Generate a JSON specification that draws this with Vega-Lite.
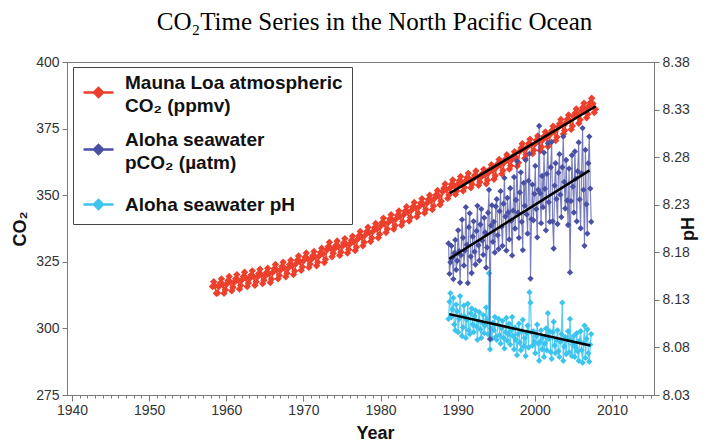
{
  "$schema": "https://vega.github.io/schema/vega-lite/v6.json",
  "width": 587,
  "height": 333,
  "autosize": {"type": "none"},
  "padding": {"left": 67, "top": 62, "right": 59, "bottom": 46},
  "background": "white",
  "title": {
    "text": "CO₂Time Series in the North Pacific Ocean",
    "font": "Liberation Serif",
    "fontSize": 25,
    "fontWeight": "normal",
    "color": "#000000",
    "anchor": "middle",
    "frame": "group",
    "baseline": "alphabetic",
    "dx": 14,
    "offset": 0
  },
  "datasets": {
    "maunaloa": [
      {"t":1958.21,"v":315.7},{"t":1958.37,"v":317.5},{"t":1958.54,"v":315.9},{"t":1958.71,"v":313.2},{"t":1958.87,"v":313.3},
      {"t":1959.04,"v":315.7},{"t":1959.21,"v":317.0},{"t":1959.37,"v":318.6},{"t":1959.54,"v":316.5},{"t":1959.71,"v":313.2},{"t":1959.87,"v":314.5},
      {"t":1960.04,"v":316.6},{"t":1960.21,"v":317.9},{"t":1960.37,"v":319.5},{"t":1960.54,"v":317.4},{"t":1960.71,"v":314.1},{"t":1960.87,"v":315.4},
      {"t":1961.04,"v":317.3},{"t":1961.21,"v":318.6},{"t":1961.37,"v":320.2},{"t":1961.54,"v":318.1},{"t":1961.71,"v":314.8},{"t":1961.87,"v":316.1},
      {"t":1962.04,"v":318.2},{"t":1962.21,"v":319.5},{"t":1962.37,"v":321.1},{"t":1962.54,"v":319.0},{"t":1962.71,"v":315.7},{"t":1962.87,"v":317.0},
      {"t":1963.04,"v":318.7},{"t":1963.21,"v":320.0},{"t":1963.37,"v":321.6},{"t":1963.54,"v":319.5},{"t":1963.71,"v":316.2},{"t":1963.87,"v":317.5},
      {"t":1964.04,"v":319.3},{"t":1964.21,"v":320.6},{"t":1964.37,"v":322.2},{"t":1964.54,"v":320.1},{"t":1964.71,"v":316.8},{"t":1964.87,"v":318.1},
      {"t":1965.04,"v":319.7},{"t":1965.21,"v":321.0},{"t":1965.37,"v":322.6},{"t":1965.54,"v":320.5},{"t":1965.71,"v":317.2},{"t":1965.87,"v":318.5},
      {"t":1966.04,"v":321.1},{"t":1966.21,"v":322.4},{"t":1966.37,"v":324.0},{"t":1966.54,"v":321.9},{"t":1966.71,"v":318.6},{"t":1966.87,"v":319.9},
      {"t":1967.04,"v":321.9},{"t":1967.21,"v":323.2},{"t":1967.37,"v":324.8},{"t":1967.54,"v":322.7},{"t":1967.71,"v":319.4},{"t":1967.87,"v":320.7},
      {"t":1968.04,"v":322.7},{"t":1968.21,"v":324.0},{"t":1968.37,"v":325.6},{"t":1968.54,"v":323.5},{"t":1968.71,"v":320.2},{"t":1968.87,"v":321.5},
      {"t":1969.04,"v":324.3},{"t":1969.21,"v":325.6},{"t":1969.37,"v":327.2},{"t":1969.54,"v":325.1},{"t":1969.71,"v":321.8},{"t":1969.87,"v":323.1},
      {"t":1970.04,"v":325.4},{"t":1970.21,"v":326.7},{"t":1970.37,"v":328.3},{"t":1970.54,"v":326.2},{"t":1970.71,"v":322.9},{"t":1970.87,"v":324.2},
      {"t":1971.04,"v":326.0},{"t":1971.21,"v":327.3},{"t":1971.37,"v":328.9},{"t":1971.54,"v":326.8},{"t":1971.71,"v":323.5},{"t":1971.87,"v":324.8},
      {"t":1972.04,"v":327.2},{"t":1972.21,"v":328.5},{"t":1972.37,"v":330.1},{"t":1972.54,"v":328.0},{"t":1972.71,"v":324.7},{"t":1972.87,"v":326.0},
      {"t":1973.04,"v":329.4},{"t":1973.21,"v":330.7},{"t":1973.37,"v":332.3},{"t":1973.54,"v":330.2},{"t":1973.71,"v":326.9},{"t":1973.87,"v":328.2},
      {"t":1974.04,"v":329.9},{"t":1974.21,"v":331.2},{"t":1974.37,"v":332.8},{"t":1974.54,"v":330.7},{"t":1974.71,"v":327.4},{"t":1974.87,"v":328.7},
      {"t":1975.04,"v":330.8},{"t":1975.21,"v":332.1},{"t":1975.37,"v":333.7},{"t":1975.54,"v":331.6},{"t":1975.71,"v":328.3},{"t":1975.87,"v":329.6},
      {"t":1976.04,"v":331.7},{"t":1976.21,"v":333.0},{"t":1976.37,"v":334.6},{"t":1976.54,"v":332.5},{"t":1976.71,"v":329.2},{"t":1976.87,"v":330.5},
      {"t":1977.04,"v":333.5},{"t":1977.21,"v":334.8},{"t":1977.37,"v":336.4},{"t":1977.54,"v":334.3},{"t":1977.71,"v":331.0},{"t":1977.87,"v":332.3},
      {"t":1978.04,"v":335.1},{"t":1978.21,"v":336.4},{"t":1978.37,"v":338.0},{"t":1978.54,"v":335.9},{"t":1978.71,"v":332.6},{"t":1978.87,"v":333.9},
      {"t":1979.04,"v":336.5},{"t":1979.21,"v":337.8},{"t":1979.37,"v":339.4},{"t":1979.54,"v":337.3},{"t":1979.71,"v":334.0},{"t":1979.87,"v":335.3},
      {"t":1980.04,"v":338.5},{"t":1980.21,"v":339.8},{"t":1980.37,"v":341.4},{"t":1980.54,"v":339.3},{"t":1980.71,"v":336.0},{"t":1980.87,"v":337.3},
      {"t":1981.04,"v":339.8},{"t":1981.21,"v":341.1},{"t":1981.37,"v":342.7},{"t":1981.54,"v":340.6},{"t":1981.71,"v":337.3},{"t":1981.87,"v":338.6},
      {"t":1982.04,"v":341.2},{"t":1982.21,"v":342.5},{"t":1982.37,"v":344.1},{"t":1982.54,"v":342.0},{"t":1982.71,"v":338.7},{"t":1982.87,"v":340.0},
      {"t":1983.04,"v":342.8},{"t":1983.21,"v":344.1},{"t":1983.37,"v":345.7},{"t":1983.54,"v":343.6},{"t":1983.71,"v":340.3},{"t":1983.87,"v":341.6},
      {"t":1984.04,"v":344.4},{"t":1984.21,"v":345.7},{"t":1984.37,"v":347.3},{"t":1984.54,"v":345.2},{"t":1984.71,"v":341.9},{"t":1984.87,"v":343.2},
      {"t":1985.04,"v":345.8},{"t":1985.21,"v":347.1},{"t":1985.37,"v":348.7},{"t":1985.54,"v":346.6},{"t":1985.71,"v":343.3},{"t":1985.87,"v":344.6},
      {"t":1986.04,"v":347.1},{"t":1986.21,"v":348.4},{"t":1986.37,"v":350.0},{"t":1986.54,"v":347.9},{"t":1986.71,"v":344.6},{"t":1986.87,"v":345.9},
      {"t":1987.04,"v":348.9},{"t":1987.21,"v":350.2},{"t":1987.37,"v":351.8},{"t":1987.54,"v":349.7},{"t":1987.71,"v":346.4},{"t":1987.87,"v":347.7},
      {"t":1988.04,"v":351.3},{"t":1988.21,"v":352.6},{"t":1988.37,"v":354.2},{"t":1988.54,"v":352.1},{"t":1988.71,"v":348.8},{"t":1988.87,"v":350.1},
      {"t":1989.04,"v":352.8},{"t":1989.21,"v":354.1},{"t":1989.37,"v":355.7},{"t":1989.54,"v":353.6},{"t":1989.71,"v":350.3},{"t":1989.87,"v":351.6},
      {"t":1990.04,"v":354.1},{"t":1990.21,"v":355.4},{"t":1990.37,"v":357.0},{"t":1990.54,"v":354.9},{"t":1990.71,"v":351.6},{"t":1990.87,"v":352.9},
      {"t":1991.04,"v":355.3},{"t":1991.21,"v":356.6},{"t":1991.37,"v":358.2},{"t":1991.54,"v":356.1},{"t":1991.71,"v":352.8},{"t":1991.87,"v":354.1},
      {"t":1992.04,"v":356.2},{"t":1992.21,"v":357.5},{"t":1992.37,"v":359.1},{"t":1992.54,"v":357.0},{"t":1992.71,"v":353.7},{"t":1992.87,"v":355.0},
      {"t":1993.04,"v":356.8},{"t":1993.21,"v":358.1},{"t":1993.37,"v":359.7},{"t":1993.54,"v":357.6},{"t":1993.71,"v":354.3},{"t":1993.87,"v":355.6},
      {"t":1994.04,"v":358.5},{"t":1994.21,"v":359.8},{"t":1994.37,"v":361.4},{"t":1994.54,"v":359.3},{"t":1994.71,"v":356.0},{"t":1994.87,"v":357.3},
      {"t":1995.04,"v":360.5},{"t":1995.21,"v":361.8},{"t":1995.37,"v":363.4},{"t":1995.54,"v":361.3},{"t":1995.71,"v":358.0},{"t":1995.87,"v":359.3},
      {"t":1996.04,"v":362.3},{"t":1996.21,"v":363.6},{"t":1996.37,"v":365.2},{"t":1996.54,"v":363.1},{"t":1996.71,"v":359.8},{"t":1996.87,"v":361.1},
      {"t":1997.04,"v":363.4},{"t":1997.21,"v":364.7},{"t":1997.37,"v":366.3},{"t":1997.54,"v":364.2},{"t":1997.71,"v":360.9},{"t":1997.87,"v":362.2},
      {"t":1998.04,"v":366.4},{"t":1998.21,"v":367.7},{"t":1998.37,"v":369.3},{"t":1998.54,"v":367.2},{"t":1998.71,"v":363.9},{"t":1998.87,"v":365.2},
      {"t":1999.04,"v":368.1},{"t":1999.21,"v":369.4},{"t":1999.37,"v":371.0},{"t":1999.54,"v":368.9},{"t":1999.71,"v":365.6},{"t":1999.87,"v":366.9},
      {"t":2000.04,"v":369.3},{"t":2000.21,"v":370.6},{"t":2000.37,"v":372.2},{"t":2000.54,"v":370.1},{"t":2000.71,"v":366.8},{"t":2000.87,"v":368.1},
      {"t":2001.04,"v":370.8},{"t":2001.21,"v":372.1},{"t":2001.37,"v":373.7},{"t":2001.54,"v":371.6},{"t":2001.71,"v":368.3},{"t":2001.87,"v":369.6},
      {"t":2002.04,"v":373.0},{"t":2002.21,"v":374.3},{"t":2002.37,"v":375.9},{"t":2002.54,"v":373.8},{"t":2002.71,"v":370.5},{"t":2002.87,"v":371.8},
      {"t":2003.04,"v":375.5},{"t":2003.21,"v":376.8},{"t":2003.37,"v":378.4},{"t":2003.54,"v":376.3},{"t":2003.71,"v":373.0},{"t":2003.87,"v":374.3},
      {"t":2004.04,"v":377.2},{"t":2004.21,"v":378.5},{"t":2004.37,"v":380.1},{"t":2004.54,"v":378.0},{"t":2004.71,"v":374.7},{"t":2004.87,"v":376.0},
      {"t":2005.04,"v":379.5},{"t":2005.21,"v":380.8},{"t":2005.37,"v":382.4},{"t":2005.54,"v":380.3},{"t":2005.71,"v":377.0},{"t":2005.87,"v":378.3},
      {"t":2006.04,"v":381.6},{"t":2006.21,"v":382.9},{"t":2006.37,"v":384.5},{"t":2006.54,"v":382.4},{"t":2006.71,"v":379.1},{"t":2006.87,"v":380.4},
      {"t":2007.04,"v":383.5},{"t":2007.21,"v":384.8},{"t":2007.37,"v":386.4},{"t":2007.54,"v":384.3},{"t":2007.71,"v":381.0},{"t":2007.87,"v":382.3}
    ],
    "aloha": [
      {"t":1988.81,"p":331.9,"h":8.110},{"t":1988.94,"p":320.5,"h":8.128},
      {"t":1989.06,"p":324.8,"h":8.137},{"t":1989.19,"p":331.0,"h":8.112},{"t":1989.31,"p":326.5,"h":8.120},{"t":1989.44,"p":318.5,"h":8.132},{"t":1989.56,"p":328.3,"h":8.104},{"t":1989.69,"p":333.2,"h":8.098},{"t":1989.81,"p":322.0,"h":8.125},{"t":1989.94,"p":325.4,"h":8.118},
      {"t":1990.06,"p":336.8,"h":8.096},{"t":1990.19,"p":329.0,"h":8.110},{"t":1990.31,"p":317.2,"h":8.134},{"t":1990.44,"p":327.5,"h":8.113},{"t":1990.56,"p":340.8,"h":8.092},{"t":1990.69,"p":334.0,"h":8.101},{"t":1990.81,"p":323.6,"h":8.124},{"t":1990.94,"p":329.2,"h":8.112},
      {"t":1991.06,"p":345.5,"h":8.090},{"t":1991.19,"p":331.4,"h":8.109},{"t":1991.31,"p":317.0,"h":8.126},{"t":1991.44,"p":338.0,"h":8.098},{"t":1991.56,"p":343.2,"h":8.094},{"t":1991.69,"p":327.0,"h":8.116},{"t":1991.81,"p":320.8,"h":8.121},{"t":1991.94,"p":334.5,"h":8.104},
      {"t":1992.06,"p":340.2,"h":8.096},{"t":1992.19,"p":328.8,"h":8.113},{"t":1992.31,"p":324.0,"h":8.119},{"t":1992.44,"p":336.6,"h":8.102},{"t":1992.56,"p":346.0,"h":8.088},{"t":1992.69,"p":331.2,"h":8.108},{"t":1992.81,"p":325.5,"h":8.117},{"t":1992.94,"p":339.0,"h":8.099},
      {"t":1993.06,"p":344.8,"h":8.090},{"t":1993.19,"p":333.0,"h":8.106},{"t":1993.31,"p":327.6,"h":8.114},{"t":1993.44,"p":341.5,"h":8.095},{"t":1993.56,"p":336.0,"h":8.103},{"t":1993.69,"p":322.8,"h":8.122},{"t":1993.81,"p":330.4,"h":8.110},{"t":1993.94,"p":343.4,"h":8.094},
      {"t":1994.06,"p":352.0,"h":8.158},{"t":1994.19,"p":296.0,"h":8.078},{"t":1994.31,"p":338.6,"h":8.100},{"t":1994.44,"p":346.2,"h":8.089},{"t":1994.56,"p":332.5,"h":8.106},{"t":1994.69,"p":340.0,"h":8.098},{"t":1994.81,"p":328.5,"h":8.112},{"t":1994.94,"p":345.8,"h":8.091},
      {"t":1995.06,"p":348.5,"h":8.088},{"t":1995.19,"p":335.0,"h":8.104},{"t":1995.31,"p":329.8,"h":8.110},{"t":1995.44,"p":344.0,"h":8.093},{"t":1995.56,"p":351.5,"h":8.084},{"t":1995.69,"p":338.2,"h":8.100},{"t":1995.81,"p":331.0,"h":8.108},{"t":1995.94,"p":346.8,"h":8.090},
      {"t":1996.06,"p":356.5,"h":8.079},{"t":1996.19,"p":342.0,"h":8.096},{"t":1996.31,"p":329.2,"h":8.111},{"t":1996.44,"p":349.0,"h":8.087},{"t":1996.56,"p":343.5,"h":8.094},{"t":1996.69,"p":333.4,"h":8.105},{"t":1996.81,"p":352.6,"h":8.083},{"t":1996.94,"p":340.4,"h":8.098},
      {"t":1997.06,"p":327.4,"h":8.112},{"t":1997.19,"p":344.2,"h":8.092},{"t":1997.31,"p":356.8,"h":8.078},{"t":1997.44,"p":337.5,"h":8.101},{"t":1997.56,"p":348.2,"h":8.088},{"t":1997.69,"p":362.8,"h":8.072},{"t":1997.81,"p":343.4,"h":8.094},{"t":1997.94,"p":334.0,"h":8.105},
      {"t":1998.06,"p":351.0,"h":8.085},{"t":1998.19,"p":358.6,"h":8.077},{"t":1998.31,"p":340.0,"h":8.097},{"t":1998.44,"p":329.4,"h":8.109},{"t":1998.56,"p":354.6,"h":8.081},{"t":1998.69,"p":346.0,"h":8.090},{"t":1998.81,"p":363.2,"h":8.071},{"t":1998.94,"p":342.8,"h":8.095},
      {"t":1999.06,"p":335.6,"h":8.103},{"t":1999.19,"p":355.4,"h":8.080},{"t":1999.31,"p":365.6,"h":8.138},{"t":1999.44,"p":318.7,"h":8.127},{"t":1999.56,"p":341.0,"h":8.096},{"t":1999.69,"p":354.0,"h":8.082},{"t":1999.81,"p":340.6,"h":8.097},{"t":1999.94,"p":350.5,"h":8.086},
      {"t":2000.06,"p":361.0,"h":8.074},{"t":2000.19,"p":344.8,"h":8.092},{"t":2000.31,"p":334.2,"h":8.104},{"t":2000.44,"p":352.0,"h":8.084},{"t":2000.56,"p":376.0,"h":8.066},{"t":2000.69,"p":350.7,"h":8.086},{"t":2000.81,"p":339.5,"h":8.098},{"t":2000.94,"p":357.2,"h":8.078},
      {"t":2001.06,"p":345.5,"h":8.091},{"t":2001.19,"p":366.0,"h":8.070},{"t":2001.31,"p":352.4,"h":8.084},{"t":2001.44,"p":336.8,"h":8.100},{"t":2001.56,"p":358.0,"h":8.077},{"t":2001.69,"p":369.5,"h":8.116},{"t":2001.81,"p":347.4,"h":8.089},{"t":2001.94,"p":340.0,"h":8.097},
      {"t":2002.06,"p":360.5,"h":8.075},{"t":2002.19,"p":370.0,"h":8.068},{"t":2002.31,"p":340.2,"h":8.096},{"t":2002.44,"p":330.0,"h":8.107},{"t":2002.56,"p":353.6,"h":8.082},{"t":2002.69,"p":362.0,"h":8.074},{"t":2002.81,"p":348.6,"h":8.088},{"t":2002.94,"p":339.2,"h":8.098},
      {"t":2003.06,"p":358.4,"h":8.076},{"t":2003.19,"p":365.4,"h":8.070},{"t":2003.31,"p":350.2,"h":8.086},{"t":2003.44,"p":341.8,"h":8.094},{"t":2003.56,"p":360.5,"h":8.127},{"t":2003.69,"p":372.0,"h":8.066},{"t":2003.81,"p":355.0,"h":8.081},{"t":2003.94,"p":345.0,"h":8.091},
      {"t":2004.06,"p":363.2,"h":8.073},{"t":2004.19,"p":348.0,"h":8.088},{"t":2004.31,"p":338.8,"h":8.097},{"t":2004.44,"p":360.0,"h":8.075},{"t":2004.56,"p":321.0,"h":8.110},{"t":2004.69,"p":347.8,"h":8.088},{"t":2004.81,"p":365.0,"h":8.071},{"t":2004.94,"p":353.2,"h":8.083},
      {"t":2005.06,"p":343.5,"h":8.092},{"t":2005.19,"p":366.4,"h":8.070},{"t":2005.31,"p":356.2,"h":8.080},{"t":2005.44,"p":340.2,"h":8.095},{"t":2005.56,"p":359.0,"h":8.076},{"t":2005.69,"p":369.8,"h":8.066},{"t":2005.81,"p":348.4,"h":8.087},{"t":2005.94,"p":337.6,"h":8.097},
      {"t":2006.06,"p":358.2,"h":8.077},{"t":2006.19,"p":375.2,"h":8.064},{"t":2006.31,"p":352.0,"h":8.084},{"t":2006.44,"p":331.0,"h":8.103},{"t":2006.56,"p":367.0,"h":8.069},{"t":2006.69,"p":346.6,"h":8.089},{"t":2006.81,"p":335.6,"h":8.099},{"t":2006.94,"p":362.0,"h":8.074},
      {"t":2007.06,"p":372.0,"h":8.065},{"t":2007.19,"p":352.5,"h":8.083},{"t":2007.31,"p":340.0,"h":8.094}
    ],
    "maunaloaTrend": [{"t":1989.0,"v":350.8},{"t":2007.9,"v":383.4}],
    "alohaTrend": [{"t":1988.9,"v":326.1},{"t":2007.1,"v":359.3}],
    "phTrend": [{"t":1988.9,"h":8.115},{"t":2007.2,"h":8.082}]
  },
  "config": {
    "view": {"stroke": "#7a7a7a", "strokeWidth": 1},
    "font": "Liberation Sans",
    "axis": {
      "grid": false,
      "domainColor": "#7a7a7a",
      "tickColor": "#7a7a7a",
      "labelColor": "#333333",
      "labelFont": "Liberation Sans",
      "labelFontSize": 14,
      "titleFont": "Liberation Sans",
      "titleFontSize": 18,
      "titleFontWeight": "bold",
      "titleColor": "#111111"
    }
  },
  "encoding": {
    "x": {
      "field": "t",
      "type": "quantitative",
      "scale": {"domain": [1939.35, 2015.45], "nice": false, "zero": false},
      "axis": {
        "title": "Year",
        "values": [1940,1941,1942,1943,1944,1945,1946,1947,1948,1949,1950,1951,1952,1953,1954,1955,1956,1957,1958,1959,1960,1961,1962,1963,1964,1965,1966,1967,1968,1969,1970,1971,1972,1973,1974,1975,1976,1977,1978,1979,1980,1981,1982,1983,1984,1985,1986,1987,1988,1989,1990,1991,1992,1993,1994,1995,1996,1997,1998,1999,2000,2001,2002,2003,2004,2005,2006,2007,2008,2009,2010,2011,2012,2013,2014,2015],
        "format": "d",
        "labelExpr": "datum.value % 10 === 0 ? datum.label : ''",
        "labelOverlap": false,
        "labelFlush": false,
        "labelPadding": 2,
        "tickSize": {"condition": {"test": "datum.value % 10 === 0", "value": 6}, "value": 3},
        "titleX": 308,
        "titlePadding": 7
      }
    }
  },
  "layer": [
    {
      "data": {"name": "maunaloa"},
      "mark": {
        "type": "line",
        "strokeWidth": 1.5,
        "point": {"shape": "diamond", "size": 55, "filled": true, "opacity": 1}
      },
      "encoding": {
        "y": {
          "field": "v",
          "type": "quantitative",
          "scale": {"domain": [275, 400], "nice": false, "zero": false},
          "axis": {
            "orient": "left",
            "title": "CO₂",
            "values": [275, 300, 325, 350, 375, 400],
            "tickSize": 5,
            "labelPadding": 3,
            "titlePadding": 6
          }
        },
        "color": {
          "datum": "ML",
          "type": "nominal",
          "scale": {"domain": ["ML", "pCO2", "pH"], "range": ["#ec3f2c", "#4a50a4", "#3cc4ee"]},
          "legend": {
            "orient": "none",
            "legendX": 6,
            "legendY": 5,
            "title": null,
            "padding": 9,
            "fillColor": "white",
            "strokeColor": "#444444",
            "symbolType": "M-1,0H1M-0.3,0L0,-0.3L0.3,0L0,0.3Z",
            "symbolSize": 900,
            "symbolStrokeWidth": 2.5,
            "labelFont": "Liberation Sans",
            "labelFontSize": 19,
            "labelFontWeight": "bold",
            "labelColor": "#111111",
            "labelOffset": 10,
            "labelLimit": 400,
            "rowPadding": 15,
            "labelExpr": "datum.value === 'ML' ? ['Mauna Loa atmospheric', 'CO₂ (ppmv)'] : datum.value === 'pCO2' ? ['Aloha seawater', 'pCO₂ (µatm)'] : 'Aloha seawater pH'",
            "encode": {
              "symbols": {"update": {"fill": {"scale": "color", "field": "value"}, "stroke": {"scale": "color", "field": "value"}, "opacity": {"value": 1}}},
              "labels": {"update": {"lineHeight": {"value": 23}, "dy": {"signal": "datum.value === 'pH' ? 0 : -9.5"}}}
            }
          }
        }
      }
    },
    {
      "data": {"name": "aloha"},
      "mark": {
        "type": "line",
        "strokeWidth": 1.2,
        "strokeOpacity": 0.85,
        "point": {"shape": "diamond", "size": 40, "filled": true, "opacity": 1}
      },
      "encoding": {
        "y": {
          "field": "h",
          "type": "quantitative",
          "scale": {"domain": [8.03, 8.38], "nice": false, "zero": false},
          "axis": {
            "orient": "right",
            "title": "pH",
            "titleAngle": -90,
            "values": [8.03, 8.08, 8.13, 8.18, 8.23, 8.28, 8.33, 8.38],
            "format": ".2f",
            "tickSize": 5,
            "labelPadding": 3,
            "titlePadding": 8
          }
        },
        "color": {"datum": "pH", "type": "nominal"}
      }
    },
    {
      "data": {"name": "aloha"},
      "mark": {
        "type": "line",
        "strokeWidth": 1.1,
        "strokeOpacity": 0.75,
        "point": {"shape": "diamond", "size": 40, "filled": true, "opacity": 1}
      },
      "encoding": {
        "y": {"field": "p", "type": "quantitative", "scale": {"domain": [275, 400], "nice": false, "zero": false}, "axis": null},
        "color": {"datum": "pCO2", "type": "nominal"}
      }
    },
    {
      "data": {"name": "maunaloaTrend"},
      "mark": {"type": "line", "color": "#000000", "strokeWidth": 2.5},
      "encoding": {
        "y": {"field": "v", "type": "quantitative", "scale": {"domain": [275, 400], "nice": false, "zero": false}, "axis": null}
      }
    },
    {
      "data": {"name": "alohaTrend"},
      "mark": {"type": "line", "color": "#000000", "strokeWidth": 2.5},
      "encoding": {
        "y": {"field": "v", "type": "quantitative", "scale": {"domain": [275, 400], "nice": false, "zero": false}, "axis": null}
      }
    },
    {
      "data": {"name": "phTrend"},
      "mark": {"type": "line", "color": "#000000", "strokeWidth": 2.5},
      "encoding": {
        "y": {"field": "h", "type": "quantitative", "scale": {"domain": [8.03, 8.38], "nice": false, "zero": false}, "axis": null}
      }
    }
  ],
  "resolve": {"scale": {"y": "independent"}}
}
